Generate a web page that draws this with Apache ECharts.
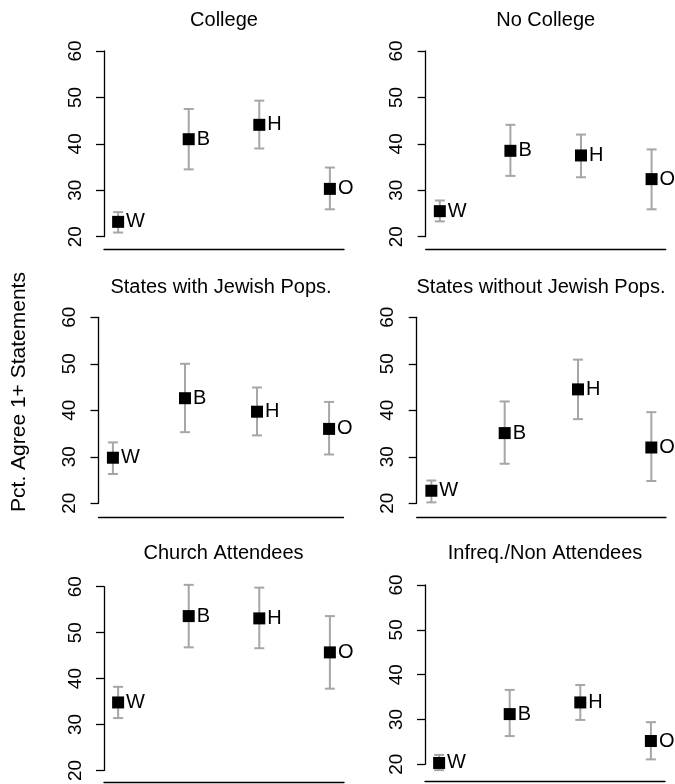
<!DOCTYPE html>
<html>
<head>
<meta charset="utf-8">
<script src="https://cdn.jsdelivr.net/npm/echarts@6/dist/echarts.min.js"></script>
<style>
html,body{margin:0;padding:0;background:#fff;}
#chart{width:675px;height:784px;}
</style>
</head>
<body>
<div id="chart"></div>
<script>
// ---- data ----
var categories = ['W', 'B', 'H', 'O'];
var positions = [1, 2, 3, 4];
var yTicks = [20, 30, 40, 50, 60];
var panelTitles = ['College', 'No College', 'States with Jewish Pops.', 'States without Jewish Pops.', 'Church Attendees', 'Infreq./Non Attendees'];
var yTitle = 'Pct. Agree 1+ Statements';

var collegeMean = [23.2, 41.0, 44.1, 30.3];
var collegeLo   = [20.9, 34.5, 39.0, 25.9];
var collegeHi   = [25.3, 47.5, 49.3, 34.9];

var noCollegeMean = [25.5, 38.5, 37.5, 32.4];
var noCollegeLo   = [23.3, 33.1, 32.8, 25.9];
var noCollegeHi   = [27.8, 44.1, 42.0, 38.8];

var withJewishMean = [29.8, 42.6, 39.7, 36.0];
var withJewishLo   = [26.3, 35.3, 34.6, 30.5];
var withJewishHi   = [33.1, 50.0, 44.9, 41.8];

var withoutJewishMean = [22.7, 35.1, 44.5, 32.0];
var withoutJewishLo   = [20.2, 28.5, 38.1, 24.8];
var withoutJewishHi   = [24.9, 41.9, 50.9, 39.6];

var churchMean = [34.8, 53.6, 53.1, 45.7];
var churchLo   = [31.4, 46.8, 46.6, 37.8];
var churchHi   = [38.2, 60.4, 59.8, 53.6];

var infreqMean = [20.3, 31.2, 33.8, 25.2];
var infreqLo   = [18.7, 26.3, 29.9, 21.1];
var infreqHi   = [22.1, 36.6, 37.7, 29.4];

var panelData = [
  [collegeMean, collegeLo, collegeHi],
  [noCollegeMean, noCollegeLo, noCollegeHi],
  [withJewishMean, withJewishLo, withJewishHi],
  [withoutJewishMean, withoutJewishLo, withoutJewishHi],
  [churchMean, churchLo, churchHi],
  [infreqMean, infreqLo, infreqHi]
];

// ---- layout (pixels) ----
var layout = [
  {left: 104,   width: 240,   top: 51,    height: 185.7, offset: 12.3, tx: 224,   ty: 20.5},
  {left: 425.7, width: 240,   top: 51,    height: 185.7, offset: 12.3, tx: 545.7, ty: 20.5},
  {left: 98.5,  width: 245,   top: 317.3, height: 186,   offset: 13.7, tx: 221,   ty: 287},
  {left: 416.7, width: 249.3, top: 317.3, height: 186,   offset: 13.7, tx: 541,   ty: 287},
  {left: 104,   width: 240,   top: 586.7, height: 184,   offset: 12,   tx: 223.5, ty: 553},
  {left: 425,   width: 240,   top: 585,   height: 179.3, offset: 17.4, tx: 545,   ty: 553.5}
];

var FONT = '"Liberation Sans", Arial, Helvetica, sans-serif';
var grids = [], xAxes = [], yAxes = [], series = [], graphics = [];

layout.forEach(function (L, i) {
  grids.push({left: L.left, top: L.top, width: L.width, height: L.height});
  xAxes.push({
    type: 'value', gridIndex: i, min: 0.8, max: 4.2, position: 'bottom', offset: L.offset,
    axisLine: {show: true, onZero: false, lineStyle: {color: '#000', width: 1.3}},
    axisTick: {show: false}, axisLabel: {show: false}, splitLine: {show: false}
  });
  yAxes.push({
    type: 'value', gridIndex: i, min: yTicks[0], max: yTicks[yTicks.length - 1], interval: 10,
    axisLine: {show: true, lineStyle: {color: '#000', width: 1.3}},
    axisTick: {show: true, length: 8, lineStyle: {color: '#000', width: 1.3}},
    axisLabel: {rotate: 90, margin: 19, fontSize: 19, color: '#000', fontFamily: FONT},
    splitLine: {show: false}
  });
  var d = panelData[i];
  var errData = positions.map(function (x, k) { return [x, d[0][k], d[1][k], d[2][k]]; });
  var ptData = positions.map(function (x, k) { return {value: [x, d[0][k]], name: categories[k]}; });
  series.push({
    type: 'custom', xAxisIndex: i, yAxisIndex: i, clip: false, z: 2, silent: true,
    data: errData,
    encode: {x: 0, y: [1, 2, 3]},
    renderItem: function (params, api) {
      var x = api.value(0);
      var lo = api.coord([x, api.value(2)]);
      var hi = api.coord([x, api.value(3)]);
      var w = 5;
      var st = {stroke: '#a6a6a6', lineWidth: 2};
      return {
        type: 'group',
        children: [
          {type: 'line', shape: {x1: lo[0], y1: lo[1], x2: hi[0], y2: hi[1]}, style: st},
          {type: 'line', shape: {x1: lo[0] - w, y1: lo[1], x2: lo[0] + w, y2: lo[1]}, style: st},
          {type: 'line', shape: {x1: hi[0] - w, y1: hi[1], x2: hi[0] + w, y2: hi[1]}, style: st}
        ]
      };
    }
  });
  series.push({
    type: 'scatter', xAxisIndex: i, yAxisIndex: i, symbol: 'rect', symbolSize: 12, z: 5,
    clip: false, silent: true,
    itemStyle: {color: '#000', opacity: 1},
    label: {show: true, position: 'right', distance: 2, formatter: '{b}', fontSize: 20, color: '#000', fontFamily: FONT},
    data: ptData
  });
  graphics.push({
    type: 'text', x: L.tx, y: L.ty,
    style: {text: panelTitles[i], fontSize: 20, fontFamily: FONT, fill: '#000', textAlign: 'center', textVerticalAlign: 'middle'}
  });
});

graphics.push({
  type: 'text', x: 19, y: 392, rotation: Math.PI / 2,
  style: {text: yTitle, fontSize: 21, fontFamily: FONT, fill: '#000', textAlign: 'center', textVerticalAlign: 'middle'}
});

var chart = echarts.init(document.getElementById('chart'), null, {renderer: 'canvas'});
chart.setOption({
  animation: false,
  backgroundColor: '#fff',
  grid: grids,
  xAxis: xAxes,
  yAxis: yAxes,
  series: series,
  graphic: graphics
});
</script>
</body>
</html>
